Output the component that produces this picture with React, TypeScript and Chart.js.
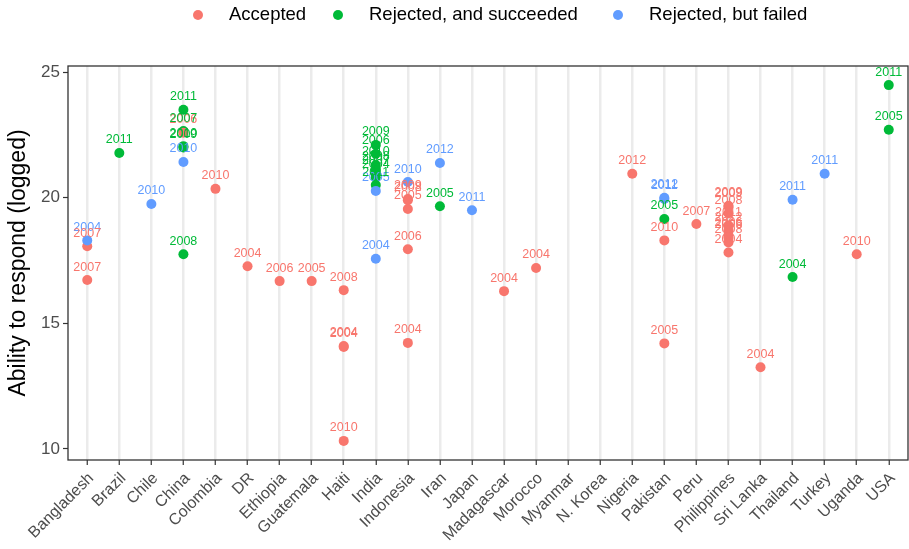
import React, { useEffect, useRef } from "react";
import { Chart, registerables } from "chart.js";
Chart.register(...registerables);

const FONT = "'Liberation Sans', Arial, Helvetica, sans-serif";

const countries = [
  "Bangladesh", "Brazil", "Chile", "China", "Colombia", "DR", "Ethiopia", "Guatemala",
  "Haiti", "India", "Indonesia", "Iran", "Japan", "Madagascar", "Morocco", "Myanmar",
  "N. Korea", "Nigeria", "Pakistan", "Peru", "Philippines", "Sri Lanka", "Thailand",
  "Turkey", "Uganda", "USA",
];

const yTicks = [10, 15, 20, 25];

const seriesNames = ["Accepted", "Rejected, and succeeded", "Rejected, but failed"];
const seriesColors = ["#F8766D", "#00BA38", "#619CFF"];

// Accepted
const acceptedCountry = [
  "Bangladesh", "Bangladesh", "China", "Colombia", "DR", "Ethiopia", "Guatemala",
  "Haiti", "Haiti", "Haiti", "Haiti",
  "Indonesia", "Indonesia", "Indonesia", "Indonesia", "Indonesia",
  "Madagascar", "Morocco", "Nigeria", "Pakistan", "Pakistan", "Peru",
  "Philippines", "Philippines", "Philippines", "Philippines", "Philippines",
  "Philippines", "Philippines", "Philippines", "Philippines",
  "Sri Lanka", "Uganda",
];
const acceptedYear = [
  2007, 2007, 2006, 2010, 2004, 2006, 2005,
  2008, 2004, 2004, 2010,
  2009, 2008, 2005, 2006, 2004,
  2004, 2004, 2012, 2010, 2005, 2007,
  2009, 2009, 2008, 2011, 2012, 2006, 2006, 2008, 2004,
  2004, 2010,
];
const acceptedValue = [
  18.07, 16.72, 22.58, 20.35, 17.27, 16.68, 16.68,
  16.32, 14.1, 14.06, 10.32,
  19.95, 19.9, 19.55, 17.95, 14.22,
  16.28, 17.2, 20.95, 18.3, 14.2, 18.95,
  19.68, 19.64, 19.38, 18.9, 18.7, 18.5, 18.4, 18.22, 17.82,
  13.25, 17.75,
];

// Rejected, and succeeded
const succeededCountry = [
  "Brazil", "China", "China", "China", "China", "China",
  "India", "India", "India", "India", "India", "India", "India",
  "Iran", "Pakistan", "Thailand", "USA", "USA",
];
const succeededYear = [
  2011, 2011, 2007, 2010, 2009, 2008,
  2009, 2006, 2010, 2008, 2007, 2004, 2011,
  2005, 2005, 2004, 2011, 2005,
];
const succeededValue = [
  21.78, 23.5, 22.65, 22.05, 22.0, 17.75,
  22.1, 21.75, 21.3, 21.1, 20.95, 20.8, 20.5,
  19.66, 19.15, 16.84, 24.48, 22.7,
];

// Rejected, but failed
const failedCountry = [
  "Bangladesh", "Chile", "China", "India", "India", "Indonesia", "Iran", "Japan",
  "Pakistan", "Pakistan", "Thailand", "Turkey",
];
const failedYear = [2004, 2010, 2010, 2005, 2004, 2010, 2012, 2011, 2012, 2011, 2011, 2011];
const failedValue = [18.3, 19.75, 21.42, 20.27, 17.57, 20.62, 21.38, 19.5, 20.0, 19.95, 19.92, 20.95];

function toPoints(cs: string[], vs: number[], ys: number[]) {
  return cs.map((c, i) => ({ x: countries.indexOf(c), y: vs[i], year: ys[i] }));
}

const customPlugin = {
  id: "custom",
  beforeDraw(chart: any) {
    const ctx = chart.ctx;
    ctx.save();
    ctx.fillStyle = "#ffffff";
    ctx.fillRect(0, 0, chart.width, chart.height);
    ctx.restore();
  },
  afterDatasetsDraw(chart: any) {
    const ctx = chart.ctx;
    ctx.save();
    ctx.font = `12.5px ${FONT}`;
    ctx.textAlign = "center";
    ctx.textBaseline = "middle";
    chart.data.datasets.forEach((ds: any, di: number) => {
      const meta = chart.getDatasetMeta(di);
      ctx.fillStyle = ds.backgroundColor;
      meta.data.forEach((el: any, i: number) => {
        const p = ds.data[i];
        ctx.fillText(String(p.year), el.x, el.y - 13);
      });
    });
    ctx.restore();
  },
  afterDraw(chart: any) {
    const ctx = chart.ctx;
    const a = chart.chartArea;
    ctx.save();
    // panel border
    ctx.strokeStyle = "#333333";
    ctx.lineWidth = 1.3;
    ctx.strokeRect(a.left, a.top, a.right - a.left, a.bottom - a.top);
    // y title
    ctx.translate(19, (a.top + a.bottom) / 2);
    ctx.rotate(-Math.PI / 2);
    ctx.fillStyle = "#000000";
    ctx.font = `23px ${FONT}`;
    ctx.textAlign = "center";
    ctx.textBaseline = "middle";
    ctx.fillText("Ability to respond (logged)", 0, 0);
    ctx.restore();
    // legend
    ctx.save();
    ctx.font = `18.5px ${FONT}`;
    ctx.textBaseline = "middle";
    ctx.textAlign = "left";
    const ly = 15;
    const dotX = [198, 338, 618];
    seriesNames.forEach((n, i) => {
      ctx.fillStyle = seriesColors[i];
      ctx.beginPath();
      ctx.arc(dotX[i], ly, 5, 0, Math.PI * 2);
      ctx.fill();
      ctx.fillStyle = "#000000";
      ctx.fillText(n, dotX[i] + 31, ly);
    });
    ctx.restore();
  },
};

export default function App() {
  const ref = useRef<HTMLCanvasElement>(null);
  useEffect(() => {
    if (!ref.current) return;
    const datasets = [
      { label: seriesNames[2], data: toPoints(failedCountry, failedValue, failedYear), color: seriesColors[2] },
      { label: seriesNames[0], data: toPoints(acceptedCountry, acceptedValue, acceptedYear), color: seriesColors[0] },
      { label: seriesNames[1], data: toPoints(succeededCountry, succeededValue, succeededYear), color: seriesColors[1] },
    ];
    const chart = new Chart(ref.current, {
      type: "scatter",
      data: {
        datasets: datasets.map((d) => ({
          label: d.label,
          data: d.data,
          backgroundColor: d.color,
          borderColor: d.color,
          pointRadius: 5,
          pointBorderWidth: 0,
          pointHoverRadius: 5,
        })),
      },
      options: {
        animation: false,
        responsive: false,
        events: [],
        layout: { autoPadding: false, padding: { top: 66, right: 1, left: 0, bottom: 0 } },
        plugins: { legend: { display: false }, tooltip: { enabled: false } },
        scales: {
          x: {
            type: "linear",
            min: -0.6,
            max: 25.6,
            afterBuildTicks: (s: any) => {
              s.ticks = countries.map((_, i) => ({ value: i }));
            },
            afterFit: (s: any) => {
              s.height = 89;
              s.paddingLeft = 0;
              s.paddingRight = 0;
            },
            ticks: {
              autoSkip: false,
              minRotation: 45,
              maxRotation: 45,
              padding: 4,
              labelOffset: 4,
              color: "#4d4d4d",
              font: { size: 16, family: FONT },
              callback: (v: any) => countries[v as number] ?? "",
            },
            grid: {
              color: "#EBEBEB",
              lineWidth: 2.5,
              tickColor: "#333333",
              tickWidth: 1.2,
              tickLength: 5,
            },
            border: { display: false },
          },
          y: {
            type: "linear",
            min: 9.56,
            max: 25.24,
            afterBuildTicks: (s: any) => {
              s.ticks = yTicks.map((v) => ({ value: v }));
            },
            afterFit: (s: any) => {
              s.width = 68;
              s.paddingTop = 0;
              s.paddingBottom = 0;
            },
            ticks: {
              padding: 3,
              color: "#4d4d4d",
              font: { size: 17, family: FONT },
            },
            grid: {
              drawOnChartArea: false,
              tickColor: "#333333",
              tickWidth: 1.2,
              tickLength: 5,
            },
            border: { display: false },
          },
        },
      },
      plugins: [customPlugin],
    });
    return () => chart.destroy();
  }, []);
  return (
    <div style={{ position: "absolute", left: 0, top: 0, width: 909, height: 549 }}>
      <canvas ref={ref} width={909} height={549} />
    </div>
  );
}
